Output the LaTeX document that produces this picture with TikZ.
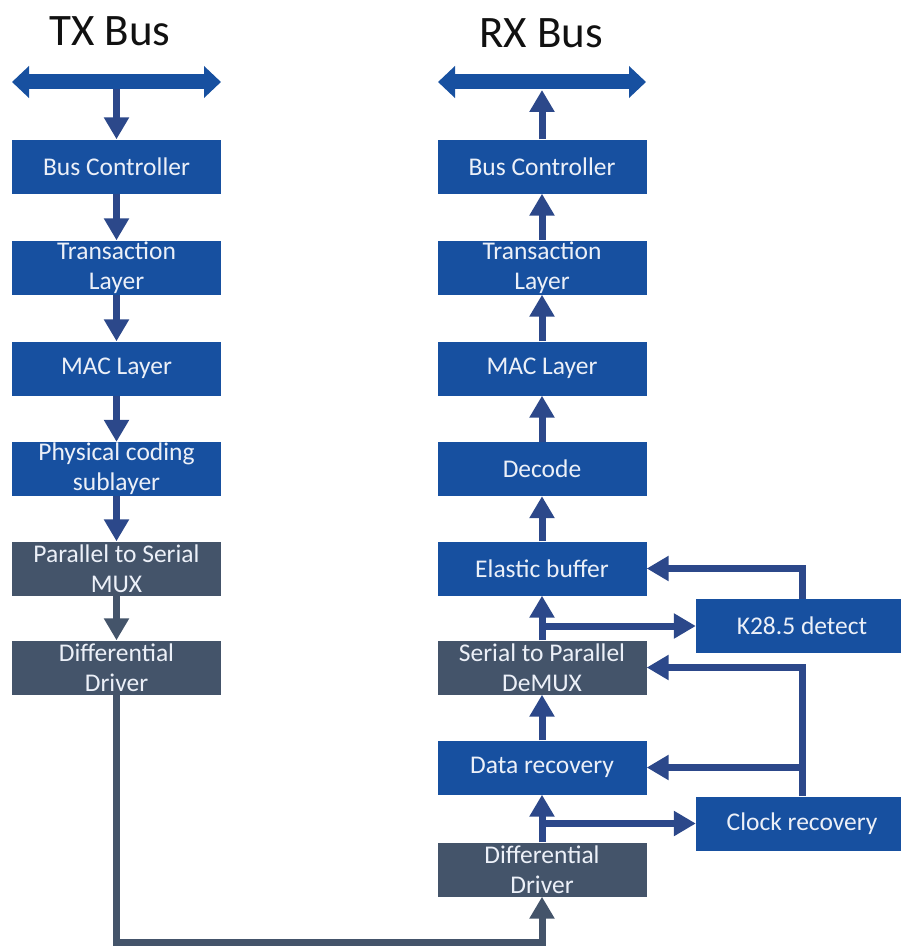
\documentclass[tikz,border=0pt]{standalone}
\usepackage{fontspec}
\setmainfont{Carlito}
\usetikzlibrary{arrows.meta}
\definecolor{boxblue}{RGB}{23,80,160}
\definecolor{slate}{RGB}{68,84,106}
\definecolor{arrowblue}{RGB}{44,72,138}
\definecolor{titleink}{RGB}{17,17,17}
\definecolor{boxink}{RGB}{236,240,248}
\tikzset{
  block/.style={rectangle, minimum width=209pt, minimum height=54pt, inner sep=0pt,
    text=boxink, align=center, font=\fontsize{25.5}{30}\selectfont},
  bluebox/.style={block, fill=boxblue},
  slatebox/.style={block, fill=slate},
  sidebox/.style={bluebox, minimum width=212pt},
  flow/.style={line width=7pt, draw=arrowblue, line join=miter,
    -{Triangle[width=24pt,length=22pt]}},
  slateflow/.style={flow, draw=slate},
  bus/.style={line width=15pt, draw=boxblue,
    {Triangle[width=31pt,length=17pt]}-{Triangle[width=31pt,length=17pt]}},
  title/.style={font=\fontsize{45}{50}\selectfont, text=titleink, inner sep=0pt}
}
\begin{document}
\begin{tikzpicture}[x=1pt,y=-1pt]
\useasboundingbox (0,0) rectangle (900,947);

% headings
\node[title] (txt) at (110,31) {TX Bus};
\node[title] (rxt) at (541,33) {RX Bus};

% bus end points
\coordinate (txL) at (12,82);
\coordinate (txR) at (221,82);
\coordinate (txM) at (116.5,82);
\coordinate (rxL) at (438,82);
\coordinate (rxR) at (646,82);
\coordinate (rxM) at (542,90);

% transmit column
\node[bluebox]  (tbc) at (116.5,166.5) {Bus Controller};
\node[bluebox]  (ttl) at (116.5,267.5) {Transaction\\Layer};
\node[bluebox]  (tmac) at (116.5,368.5) {MAC Layer};
\node[bluebox]  (tpcs) at (116.5,469) {Physical coding\\sublayer};
\node[slatebox] (tmux) at (116.5,568.5) {Parallel to Serial\\MUX};
\node[slatebox] (tdd) at (116.5,667.5) {Differential\\Driver};

% receive column
\node[bluebox]  (rbc) at (542,166.5) {Bus Controller};
\node[bluebox]  (rtl) at (542,267.5) {Transaction\\Layer};
\node[bluebox]  (rmac) at (542,368.5) {MAC Layer};
\node[bluebox]  (rdec) at (542,469) {Decode};
\node[bluebox]  (reb) at (542,568.5) {Elastic buffer};
\node[slatebox] (rsp) at (542,667.5) {Serial to Parallel\\DeMUX};
\node[bluebox]  (rdr) at (542,767.5) {Data recovery};
\node[slatebox] (rdd) at (542,869.5) {Differential\\Driver};

% side blocks
\node[sidebox] (k28) at (802,626) {K28.5 detect};
\node[sidebox] (crec) at (802,823.5) {Clock recovery};

% transmit path
\draw[flow] (txM) -- (tbc.north);
\draw[bus] (txL) -- (txR);
\draw[flow] (tbc) -- (ttl);
\draw[flow] (ttl) -- (tmac);
\draw[flow] (tmac) -- (tpcs);
\draw[flow] (tpcs) -- (tmux);
\draw[slateflow] (tmux) -- (tdd);

% link between the two drivers
\coordinate (low) at (116.5,942);
\draw[slateflow] (tdd.south) -- (low) -| (rdd.south);

% receive path
\draw[flow] (rdd) -- (rdr);
\draw[flow] (rdr) -- (rsp);
\draw[flow] (rsp) -- (reb);
\draw[flow] (reb) -- (rdec);
\draw[flow] (rdec) -- (rmac);
\draw[flow] (rmac) -- (rtl);
\draw[flow] (rtl) -- (rbc);
\draw[flow] (rbc.north) -- (rxM);
\draw[bus] (rxL) -- (rxR);

% taps and feedback
\draw[flow] (rsp.north |- k28.west) -- (k28.west);
\draw[flow] (k28.north) |- (reb.east);
\draw[flow] (rdd.north |- crec.west) -- (crec.west);
\draw[flow] (crec.north) |- (rsp.east);
\draw[flow] (crec.north |- rdr.east) -- (rdr.east);
\end{tikzpicture}
\end{document}
